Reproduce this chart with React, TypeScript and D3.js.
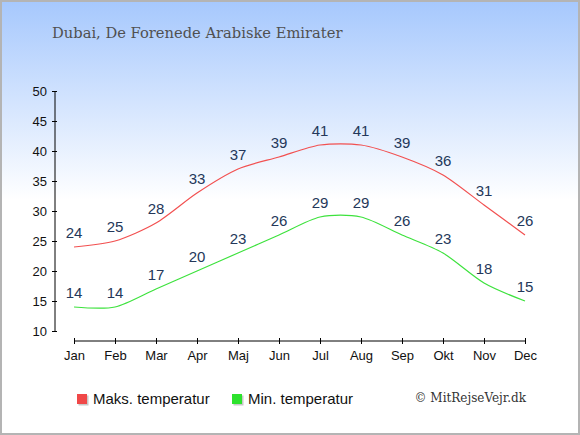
import { useEffect, useRef } from 'react';
import * as d3 from 'd3';

const months = ['Jan', 'Feb', 'Mar', 'Apr', 'Maj', 'Jun', 'Jul', 'Aug', 'Sep', 'Okt', 'Nov', 'Dec'];
const maxTemp = [24, 25, 28, 33, 37, 39, 41, 41, 39, 36, 31, 26];
const minTemp = [14, 14, 17, 20, 23, 26, 29, 29, 26, 23, 18, 15];
const yTicks = [10, 15, 20, 25, 30, 35, 40, 45, 50];

const W = 580;
const H = 435;

export default function App() {
  const ref = useRef<SVGSVGElement>(null);

  useEffect(() => {
    if (!ref.current) return;
    const svg = d3.select(ref.current);
    svg.selectAll('*').remove();

    const defs = svg.append('defs');
    const grad = defs
      .append('linearGradient')
      .attr('id', 'bg')
      .attr('x1', 0)
      .attr('y1', 0)
      .attr('x2', 0)
      .attr('y2', 1);
    grad.append('stop').attr('offset', '0%').attr('stop-color', '#a6c8fd');
    grad.append('stop').attr('offset', '46%').attr('stop-color', '#ffffff');
    grad.append('stop').attr('offset', '100%').attr('stop-color', '#ffffff');

    svg
      .append('rect')
      .attr('x', 1)
      .attr('y', 1)
      .attr('width', W - 2)
      .attr('height', H - 2)
      .attr('fill', 'url(#bg)')
      .attr('stroke', '#b4b4b4')
      .attr('stroke-width', 2);

    svg
      .append('text')
      .attr('x', 52)
      .attr('y', 38)
      .style('font-family', '"DejaVu Serif", serif')
      .style('font-size', '14.7px')
      .style('fill', '#505050')
      .text('Dubai, De Forenede Arabiske Emirater');

    const x = d3
      .scalePoint<string>()
      .domain(months)
      .range([74, 525]);
    const y = d3.scaleLinear().domain([10, 50]).range([331, 91]);

    // y axis
    const gy = svg.append('g').attr('transform', 'translate(55,0)');
    gy.call(d3.axisLeft(y).tickValues(yTicks).tickSize(4).tickPadding(4))
      .call(g => g.select('.domain').attr('d', `M0,${y(10)}V${y(50)}`))
      .call(g => g.selectAll('line').attr('x1', -3).attr('x2', 2))
      .selectAll('text')
      .style('font-family', '"Liberation Sans", Arial, sans-serif')
      .style('font-size', '13px')
      .style('fill', '#111');

    // x axis
    const gx = svg.append('g').attr('transform', 'translate(0,341)');
    gx.call(d3.axisBottom(x).tickSize(3).tickPadding(7))
      .call(g => g.select('.domain').attr('d', `M${x('Jan')},0H${x('Dec')}`))
      .call(g => g.selectAll('.tick line').attr('y1', -3).attr('y2', 3))
      .selectAll('text')
      .style('font-family', '"Liberation Sans", Arial, sans-serif')
      .style('font-size', '13px')
      .style('fill', '#111');

    svg.selectAll('.domain, .tick line').attr('stroke', '#000');

    const line = d3
      .line<number>()
      .x((_, i) => x(months[i])!)
      .y(d => y(d))
      .curve(d3.curveCardinal.tension(0.2));

    const series = [
      { data: maxTemp, color: '#f25050' },
      { data: minTemp, color: '#3de23d' },
    ];

    series.forEach(s => {
      svg
        .append('path')
        .datum(s.data)
        .attr('d', line)
        .attr('fill', 'none')
        .attr('stroke', s.color)
        .attr('stroke-width', 1.2);

      svg
        .append('g')
        .selectAll('text')
        .data(s.data)
        .join('text')
        .attr('x', (_, i) => x(months[i])!)
        .attr('y', d => y(d) - 9)
        .attr('text-anchor', 'middle')
        .style('font-family', '"Liberation Sans", Arial, sans-serif')
        .style('font-size', '15px')
        .style('fill', '#24385a')
        .text(d => d);
    });

    // legend
    const legend = [
      { label: 'Maks. temperatur', color: '#f04848', x: 77 },
      { label: 'Min. temperatur', color: '#2de22d', x: 232 },
    ];
    legend.forEach(l => {
      svg
        .append('rect')
        .attr('x', l.x + 1.5)
        .attr('y', 395.5)
        .attr('width', 10)
        .attr('height', 10)
        .attr('fill', '#c8c8c8');
      svg
        .append('rect')
        .attr('x', l.x)
        .attr('y', 394)
        .attr('width', 10)
        .attr('height', 10)
        .attr('fill', l.color);
      svg
        .append('text')
        .attr('x', l.x + 16)
        .attr('y', 403.5)
        .style('font-family', '"Liberation Sans", Arial, sans-serif')
        .style('font-size', '15px')
        .style('fill', '#111')
        .text(l.label);
    });

    svg
      .append('text')
      .attr('x', 526)
      .attr('y', 402)
      .attr('text-anchor', 'end')
      .style('font-family', '"DejaVu Serif", serif')
      .style('font-size', '12px')
      .style('fill', '#333')
      .text('© MitRejseVejr.dk');
  }, []);

  return (
    <svg
      ref={ref}
      width={W}
      height={H}
      style={{ position: 'absolute', left: 0, top: 0 }}
    />
  );
}
